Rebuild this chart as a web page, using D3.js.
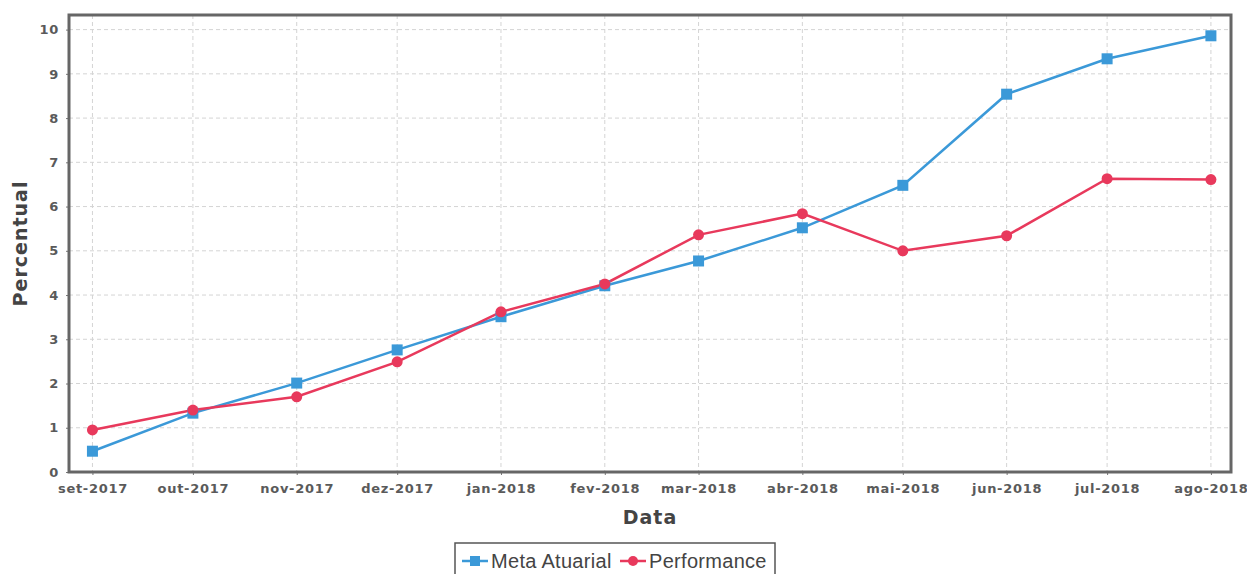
<!DOCTYPE html>
<html>
<head>
<meta charset="utf-8">
<script src="https://cdn.jsdelivr.net/npm/d3@7"></script>
<style>
  body { margin: 0; background: #fff; }
  svg { display: block; }
  .tick text { font-family: "DejaVu Sans", sans-serif; font-size: 13px; font-weight: bold; fill: #5a5a5a; letter-spacing: 0.7px; }
</style>
</head>
<body>
<svg id="chart" width="1247" height="574"></svg>
<script>
// months (first day of each)
var months = ["2017-09-01", "2017-10-01", "2017-11-01", "2017-12-01", "2018-01-01", "2018-02-01",
              "2018-03-01", "2018-04-01", "2018-05-01", "2018-06-01", "2018-07-01", "2018-08-01"];
var monthLabels = ["set-2017", "out-2017", "nov-2017", "dez-2017", "jan-2018", "fev-2018",
                   "mar-2018", "abr-2018", "mai-2018", "jun-2018", "jul-2018", "ago-2018"];
var metaAtuarial = [0.47, 1.33, 2.01, 2.76, 3.51, 4.21, 4.77, 5.52, 6.48, 8.54, 9.34, 9.86];
var performance  = [0.95, 1.40, 1.70, 2.49, 3.62, 4.25, 5.36, 5.84, 5.00, 5.34, 6.63, 6.61];
var yTicks = [0, 1, 2, 3, 4, 5, 6, 7, 8, 9, 10];

var parse = d3.timeParse("%Y-%m-%d");
var dates = months.map(parse);

var svg = d3.select("#chart"),
    margin = {top: 15, right: 16, bottom: 102, left: 69},
    width = +svg.attr("width") - margin.left - margin.right,
    height = +svg.attr("height") - margin.top - margin.bottom;

var g = svg.append("g")
    .attr("transform", "translate(" + margin.left + "," + margin.top + ")");

var x = d3.scaleTime()
    .domain([d3.timeDay.offset(dates[0], -7), d3.timeDay.offset(dates[dates.length - 1], 6.6)])
    .range([0, width]);

var y = d3.scaleLinear().domain([0, 10.33]).range([height, 0]);

// grid
g.append("g")
    .selectAll("line")
    .data(yTicks)
  .enter().append("line")
    .attr("x1", 0).attr("x2", width)
    .attr("y1", function(d) { return y(d); })
    .attr("y2", function(d) { return y(d); })
    .attr("stroke", "#d4d4d4")
    .attr("stroke-dasharray", "4,3");

g.append("g")
    .selectAll("line")
    .data(dates)
  .enter().append("line")
    .attr("y1", 0).attr("y2", height)
    .attr("x1", function(d) { return x(d); })
    .attr("x2", function(d) { return x(d); })
    .attr("stroke", "#d4d4d4")
    .attr("stroke-dasharray", "4,3");

// axes
var xAxis = g.append("g")
    .attr("transform", "translate(0," + height + ")")
    .call(d3.axisBottom(x).tickValues(dates).tickSize(3).tickPadding(9)
      .tickFormat(function(d, i) { return monthLabels[i]; }));
xAxis.select(".domain").remove();
xAxis.selectAll(".tick line").attr("stroke", "#777");

var yAxis = g.append("g")
    .call(d3.axisLeft(y).tickValues(yTicks).tickSize(3).tickPadding(7));
yAxis.select(".domain").remove();
yAxis.selectAll(".tick line").attr("stroke", "#777");

// plot border
g.append("rect")
    .attr("width", width)
    .attr("height", height)
    .attr("fill", "none")
    .attr("stroke", "#666")
    .attr("stroke-width", 3);

var line = d3.line()
    .x(function(d, i) { return x(dates[i]); })
    .y(function(d) { return y(d); });

var blue = "#3b99d8", red = "#e8395c";

g.append("path")
    .datum(metaAtuarial)
    .attr("fill", "none")
    .attr("stroke", blue)
    .attr("stroke-width", 2.5)
    .attr("d", line);

g.append("path")
    .datum(performance)
    .attr("fill", "none")
    .attr("stroke", red)
    .attr("stroke-width", 2.5)
    .attr("d", line);

g.append("g")
    .selectAll("rect")
    .data(metaAtuarial)
  .enter().append("rect")
    .attr("x", function(d, i) { return x(dates[i]) - 5.5; })
    .attr("y", function(d) { return y(d) - 5.5; })
    .attr("width", 11)
    .attr("height", 11)
    .attr("fill", blue);

g.append("g")
    .selectAll("circle")
    .data(performance)
  .enter().append("circle")
    .attr("cx", function(d, i) { return x(dates[i]); })
    .attr("cy", function(d) { return y(d); })
    .attr("r", 5.5)
    .attr("fill", red);

// axis titles
svg.append("text")
    .attr("x", margin.left + width / 2)
    .attr("y", 524)
    .attr("text-anchor", "middle")
    .attr("font-family", "DejaVu Sans, sans-serif")
    .attr("font-size", "19px")
    .attr("font-weight", "bold")
    .attr("letter-spacing", "1px")
    .attr("fill", "#444")
    .text("Data");

svg.append("text")
    .attr("transform", "translate(27," + (margin.top + height / 2) + ") rotate(-90)")
    .attr("text-anchor", "middle")
    .attr("font-family", "DejaVu Sans, sans-serif")
    .attr("font-size", "19px")
    .attr("font-weight", "bold")
    .attr("letter-spacing", "1px")
    .attr("fill", "#444")
    .text("Percentual");

// legend
var legend = svg.append("g").attr("transform", "translate(455,543)");
legend.append("rect")
    .attr("width", 320).attr("height", 40)
    .attr("fill", "#fff")
    .attr("stroke", "#555")
    .attr("stroke-width", 1.5);

var items = [
  {name: "Meta Atuarial", color: blue, shape: "square", x: 7},
  {name: "Performance", color: red, shape: "circle", x: 165}
];
items.forEach(function(it) {
  var lg = legend.append("g").attr("transform", "translate(" + it.x + ",18)");
  lg.append("line").attr("x1", 0).attr("x2", 26).attr("stroke", it.color).attr("stroke-width", 2.5);
  if (it.shape == "square") {
    lg.append("rect").attr("x", 8).attr("y", -5).attr("width", 10).attr("height", 10).attr("fill", it.color);
  } else {
    lg.append("circle").attr("cx", 13).attr("r", 5).attr("fill", it.color);
  }
  lg.append("text")
    .attr("x", 29)
    .attr("dy", "0.35em")
    .attr("font-family", "Liberation Sans, Arial, sans-serif")
    .attr("font-size", "20px")
    .attr("letter-spacing", "0.3px")
    .attr("fill", "#444")
    .text(it.name);
});
</script>
</body>
</html>
